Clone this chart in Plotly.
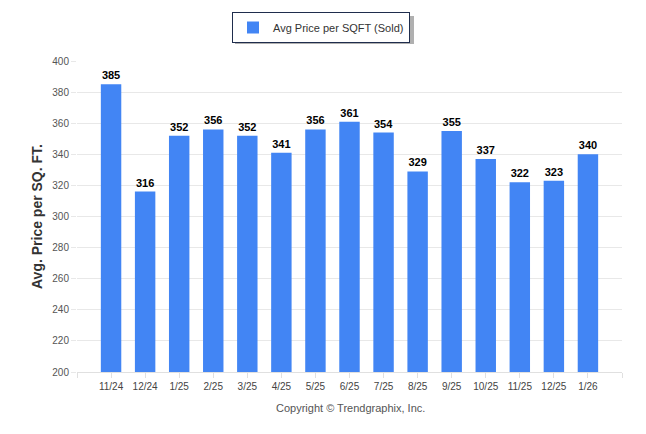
import plotly.graph_objects as go

months = ["11/24", "12/24", "1/25", "2/25", "3/25", "4/25", "5/25", "6/25",
          "7/25", "8/25", "9/25", "10/25", "11/25", "12/25", "1/26"]
avg_price = [385, 316, 352, 356, 352, 341, 356, 361, 354, 329, 355, 337, 322, 323, 340]

# page has an 8px body margin; work in screen coordinates and convert
OFF = 8
W, H = 646 - OFF, 434 - OFF
L, T = 77 - OFF, 61 - OFF
R, B = W - (622 - OFF), H - (372 - OFF)
PW, PH = W - L - R, H - T - B

def px(x):
    return (x - OFF - L) / PW

def py(y):
    return (H - B - (y - OFF)) / PH

xpos = list(range(len(months)))
fig = go.Figure()
fig.add_trace(go.Bar(
    x=xpos, y=avg_price, name="Avg Price per SQFT (Sold)",
    marker=dict(color="#4285F4", line=dict(width=0)),
    width=0.6,
    text=[str(v) for v in avg_price], textposition="outside",
    textfont=dict(family="Arial", size=11, color="#000000", weight="bold"),
    cliponaxis=False,
))

fig.update_layout(
    width=W, height=H,
    margin=dict(l=L, r=R, t=T, b=B, autoexpand=False),
    paper_bgcolor="white", plot_bgcolor="white",
    font=dict(family="Arial", size=10, color="#555555"),
    showlegend=True,
    legend=dict(orientation="h", x=px(321), xanchor="center", y=py(12), yanchor="top",
                bgcolor="white", bordercolor="#1F2D4D", borderwidth=1,
                font=dict(family="Arial", size=11, color="#333333")),
    xaxis=dict(range=[-1, 15], tickmode="array", automargin=False,
               tickvals=[-1] + xpos + [15], ticktext=[""] + months + [""],
               showgrid=False, showline=True, linecolor="#e0e0e0",
               ticks="outside", ticklen=5, tickcolor="#e0e0e0",
               tickfont=dict(size=10, color="#444444"), fixedrange=True),
    yaxis=dict(range=[200, 400], dtick=20, showgrid=True, gridcolor="#e8e8e8",
               automargin=False,
               zeroline=False, ticks="outside", ticklen=5, tickcolor="#e8e8e8",
               tickfont=dict(size=10, color="#555555"),
               title=dict(text="Avg. Price per SQ. FT.", standoff=6,
                          font=dict(family="Arial", size=14, color="#333333", weight="bold"))),
    bargap=0.4,
)

# legend drop shadow
fig.add_shape(type="rect", xref="paper", yref="paper", layer="below",
              x0=px(235), x1=px(414), y0=py(44), y1=py(16),
              fillcolor="#b0b0b0", line=dict(width=0))

fig.add_annotation(text="Copyright © Trendgraphix, Inc.", xref="paper", yref="paper",
                   x=px(350), y=py(408), xanchor="center", yanchor="middle",
                   showarrow=False, font=dict(family="Arial", size=11, color="#555555"))

fig.write_html("out.html")
